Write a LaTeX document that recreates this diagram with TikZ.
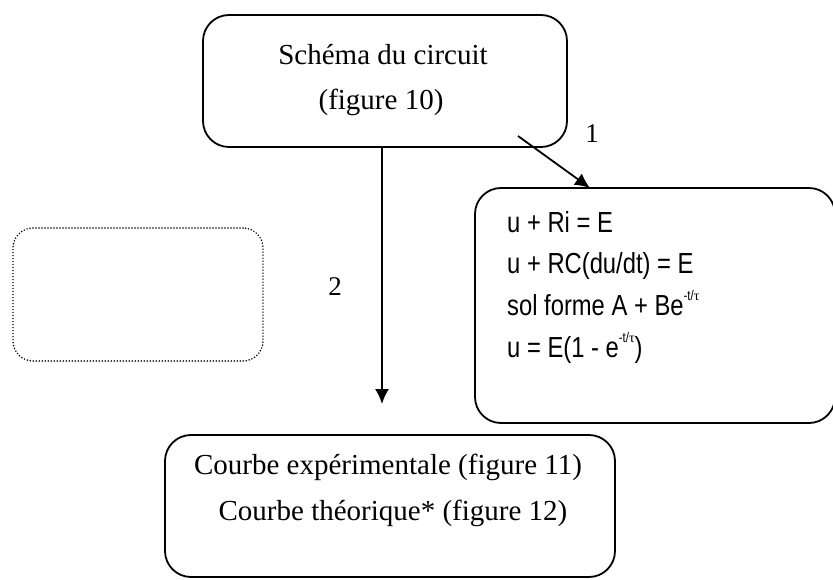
\documentclass[tikz,border=0pt]{standalone}
\usepackage{fontspec}
\setmainfont{Liberation Serif}
\newfontfamily\eqfont[FakeStretch=0.82]{Liberation Sans}
\usetikzlibrary{arrows.meta}
\newcommand{\supexp}{\raisebox{0.5em}{\fontsize{14}{14}\selectfont -t/{\rmfamily τ}}}
\begin{document}
\begin{tikzpicture}[x=1pt,y=-1pt,
  box/.style={draw,line width=1.8pt,rounded corners=26pt,inner sep=0pt},
  dotbox/.style={draw,line width=1.7pt,rounded corners=20pt,inner sep=0pt,
     dash pattern=on 0pt off 3pt,line cap=round},
  serif/.style={font=\fontsize{29}{29}\selectfont,inner sep=0pt},
  eq/.style={font=\eqfont\fontsize{29}{29}\selectfont,inner sep=0pt,anchor=base west},
  lab/.style={font=\fontsize{27}{27}\selectfont,inner sep=0pt,anchor=base},
  arr/.style={line width=1.8pt,-{Latex[length=15pt,width=14pt]}}]
\useasboundingbox[fill=white] (0,0) rectangle (833,580);
% boxes
\node[box,minimum width=364pt,minimum height=132pt] (top) at (385,81) {};
\node[box,minimum width=360pt,minimum height=235pt] (right) at (655,305.5) {};
\node[box,minimum width=450pt,minimum height=142pt] (bottom) at (390,506) {};
\node[dotbox,minimum width=250pt,minimum height=133pt] (empty) at (138,294.5) {};
% texts
\node[serif,anchor=base] (t1) at (383,65) {Schéma du circuit};
\node[serif,anchor=base] (t2) at (381,110) {(figure 10)};
\node[eq] (e1) at (507,233) {u + Ri = E};
\node[eq] (e2) at (507,274) {u + RC(du/dt) = E};
\node[eq] (e3) at (507,315) {sol forme A + Be\supexp};
\node[eq] (e4) at (507,357) {u = E(1 - e\supexp)};
\node[serif,anchor=base] (b1) at (388,474) {Courbe expérimentale (figure 11)};
\node[serif,anchor=base] (b2) at (393,520) {Courbe théorique* (figure 12)};
% labels
\node[lab] (l1) at (592,143) {1};
\node[lab] (l2) at (335,295) {2};
% connectors
\coordinate (a1start) at (518,136);
\coordinate (a1end) at (590,188);
\coordinate (a2end) at (382,404);
\draw[arr] (a1start) -- (a1end);
\draw[arr] (top.south -| a2end) -- (a2end);
\end{tikzpicture}
\end{document}
